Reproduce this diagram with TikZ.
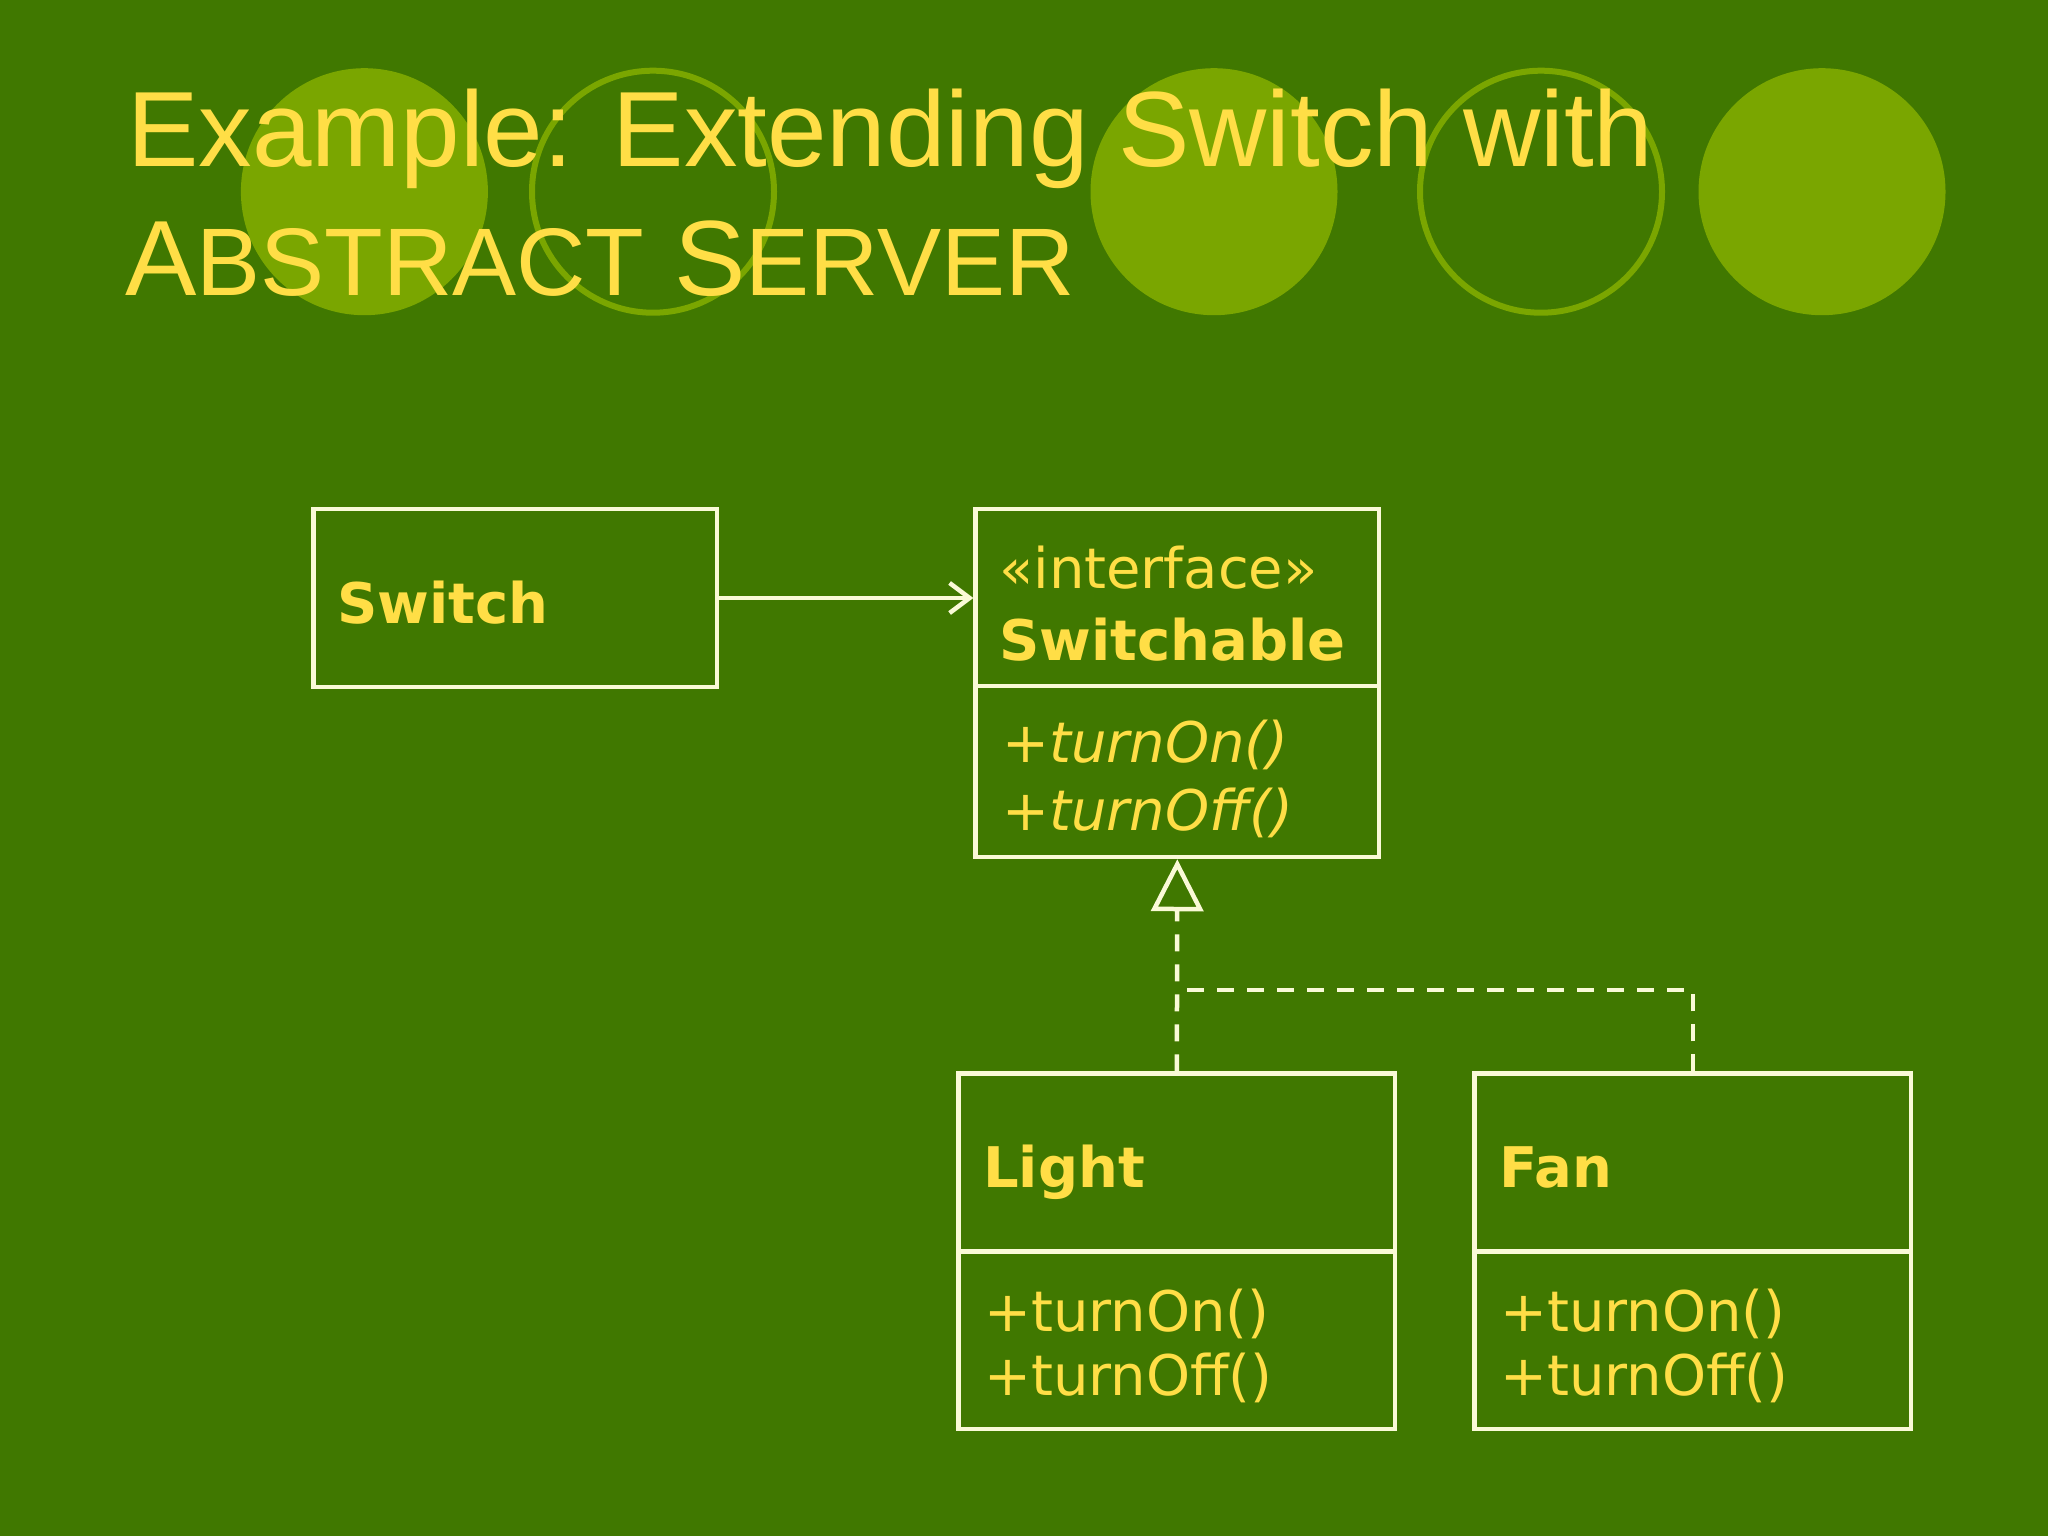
\documentclass[tikz,border=0pt]{standalone}
\usepackage{fontspec}
\setmainfont{Liberation Sans}
\newfontfamily\umlfont{DejaVu Sans}
\usetikzlibrary{arrows.meta,calc}
\definecolor{bgreen}{RGB}{64,120,0}
\definecolor{cgreen}{RGB}{122,166,0}
\definecolor{tyellow}{RGB}{255,222,70}
\definecolor{lcream}{RGB}{250,250,215}
\tikzset{
  deco/.style={fill=cgreen, draw=none},
  ring/.style={draw=cgreen, line width=6pt},
  titletext/.style={text=tyellow, inner sep=0pt, anchor=base west, font=\fontsize{107}{107}\selectfont},
  umlbox/.style={draw=lcream, line width=4.5pt, inner sep=0pt},
  umltext/.style={text=tyellow, inner sep=0pt, anchor=base west, font=\umlfont\fontsize{56}{56}\selectfont},
  umlbold/.style={umltext, font=\umlfont\bfseries\fontsize{56}{56}\selectfont},
  umlital/.style={umltext, font=\umlfont\itshape\fontsize{56}{56}\selectfont},
  conn/.style={draw=lcream, line width=4.5pt},
  dashconn/.style={conn, dash pattern=on 17pt off 13pt},
}
\begin{document}
\begin{tikzpicture}[x=1pt,y=-1pt]
\fill[bgreen] (0,0) rectangle (2048,1536);
\useasboundingbox (0,0) rectangle (2048,1536);
% decorative circles
\fill[deco] (364.4,191.7) circle[radius=123.5];
\draw[ring] (653,191.7) circle[radius=121];
\fill[deco] (1214,191.7) circle[radius=123.5];
\draw[ring] (1541,191.7) circle[radius=121];
\fill[deco] (1822,191.7) circle[radius=123.5];
% title
\node[titletext] (title1) at (127,167) {Example: Extending Switch with};
\node[titletext] (title2) at (125,295) {A{\fontsize{96}{96}\selectfont BSTRACT} S{\fontsize{96}{96}\selectfont ERVER}};
% boxes
\node[umlbox, minimum width=403.5pt, minimum height=178pt] (switch) at (515.25,598) {};
\node[umlbox, minimum width=403.4pt, minimum height=348pt] (switchable) at (1177.3,683) {};
\node[umlbox, minimum width=436.3pt, minimum height=355.4pt] (light) at (1176.85,1251.3) {};
\node[umlbox, minimum width=436.3pt, minimum height=355.4pt] (fan) at (1692.8,1251.3) {};
% dividers
\draw[conn] ($(switchable.north west)+(0,179)$) -- ($(switchable.north east)+(0,179)$);
\draw[conn] ($(light.north west)+(0,180)$) -- ($(light.north east)+(0,180)$);
\draw[conn] ($(fan.north west)+(0,180)$) -- ($(fan.north east)+(0,180)$);
% texts
\node[umlbold] (switchlbl) at (337,623) {Switch};
\node[umltext] (stereo) at (999,588) {«interface»};
\node[umlbold] (switchablelbl) at (999,660) {Switchable};
\node[umlital] (ion) at (1002,762) {+turnOn()};
\node[umlital] (ioff) at (1002,830) {+turnOff()};
\node[umlbold] (lightlbl) at (983,1187) {Light};
\node[umltext] (lon) at (984,1331) {+turnOn()};
\node[umltext] (loff) at (984,1395) {+turnOff()};
\node[umlbold] (fanlbl) at (1499,1187) {Fan};
\node[umltext] (fon) at (1500,1331) {+turnOn()};
\node[umltext] (foff) at (1500,1395) {+turnOff()};
% connectors
\draw[conn, -{Straight Barb[length=20pt,width=30pt,line width=4.5pt]}] (switch.east) -- (switchable.west |- switch.east);
\coordinate (junction) at (1177,990);
\draw[dashconn, -{Triangle[open,length=52pt,width=52pt,line width=4.5pt]}] (light.north) -- (switchable.south);
\draw[dashconn] (fan.north) |- (junction);
\end{tikzpicture}
\end{document}
